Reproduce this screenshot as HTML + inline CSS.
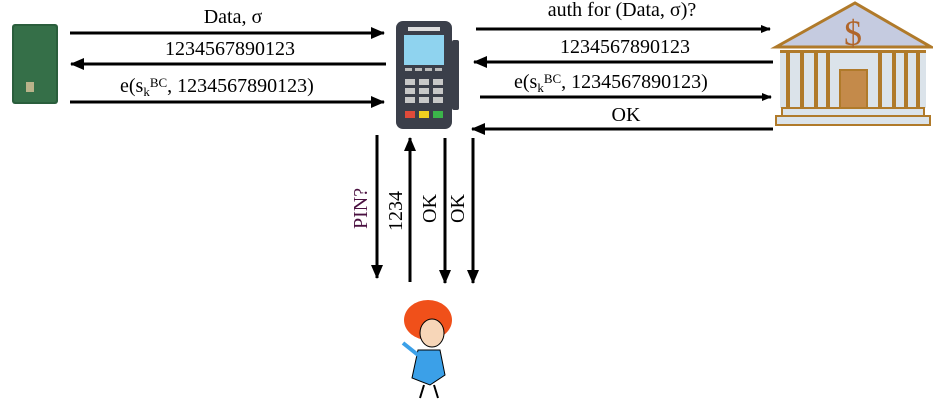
<!DOCTYPE html>
<html><head><meta charset="utf-8"><style>
html,body{margin:0;padding:0;background:#fff;}
svg{display:block;}
text{font-family:"Liberation Serif",serif;font-size:20px;fill:#000;}
</style></head><body>
<svg width="933" height="405" viewBox="0 0 933 405">
<defs>
<marker id="a" markerWidth="10" markerHeight="8" refX="9" refY="4" orient="auto" markerUnits="userSpaceOnUse">
<path d="M0,0 L10,4 L0,8 Z" fill="#000"/></marker>
<marker id="b" markerWidth="14" markerHeight="12" refX="13" refY="6" orient="auto" markerUnits="userSpaceOnUse">
<path d="M0,0 L14,6 L0,12 Z" fill="#000"/></marker>
</defs>
<!-- card -->
<rect x="12" y="24" width="46" height="80" rx="3" fill="#2a5e3c"/>
<rect x="14" y="26" width="42" height="76" rx="2" fill="#356f48"/>
<rect x="26" y="82" width="8" height="10" fill="#b9b38a"/>
<!-- left arrows -->
<g stroke="#000" stroke-width="3">
<line x1="70" y1="33" x2="384" y2="33" marker-end="url(#b)"/>
<line x1="386" y1="64" x2="71" y2="64" marker-end="url(#b)"/>
<line x1="70" y1="102" x2="384" y2="102" marker-end="url(#b)"/>
</g>
<text x="233" y="23" text-anchor="middle">Data, σ</text>
<text x="230" y="55" text-anchor="middle">1234567890123</text>
<text x="120" y="92">e(s<tspan font-size="13" dy="4">k</tspan><tspan font-size="13" dy="-9">BC</tspan><tspan dy="5">, 1234567890123)</tspan></text>
<!-- terminal -->
<rect x="452" y="40" width="7" height="70" rx="2" fill="#3b3f4a"/>
<rect x="396" y="21" width="56" height="108" rx="7" fill="#3b3f4a"/>
<rect x="408" y="27" width="32" height="4" fill="#ddd"/>
<rect x="404" y="35" width="40" height="30" fill="#8fd3ef"/>
<g fill="#bbb"><rect x="405" y="68" width="7" height="3"/><rect x="415" y="68" width="7" height="3"/><rect x="425" y="68" width="7" height="3"/><rect x="435" y="68" width="7" height="3"/></g>
<g fill="#c8c8c8">
<rect x="405" y="79" width="10" height="6"/><rect x="419" y="79" width="10" height="6"/><rect x="433" y="79" width="10" height="6"/>
<rect x="405" y="88" width="10" height="6"/><rect x="419" y="88" width="10" height="6"/><rect x="433" y="88" width="10" height="6"/>
<rect x="405" y="97" width="10" height="6"/><rect x="419" y="97" width="10" height="6"/><rect x="433" y="97" width="10" height="6"/>
</g>
<rect x="405" y="111" width="10" height="7" fill="#e04a3a"/><rect x="419" y="111" width="10" height="7" fill="#f0d020"/><rect x="433" y="111" width="10" height="7" fill="#3bb54a"/>
<!-- right arrows -->
<g stroke="#000" stroke-width="3">
<line x1="476" y1="29" x2="770" y2="29" marker-end="url(#a)"/>
<line x1="773" y1="62" x2="474" y2="62" marker-end="url(#b)"/>
<line x1="480" y1="97" x2="771" y2="97" marker-end="url(#a)"/>
<line x1="773" y1="129" x2="472" y2="129" marker-end="url(#b)"/>
</g>
<text x="622" y="16" text-anchor="middle">auth for (Data, σ)?</text>
<text x="625" y="53" text-anchor="middle">1234567890123</text>
<text x="514" y="88">e(s<tspan font-size="13" dy="4">k</tspan><tspan font-size="13" dy="-9">BC</tspan><tspan dy="5">, 1234567890123)</tspan></text>
<text x="626" y="121" text-anchor="middle">OK</text>
<!-- bank -->
<polygon points="776,47 855,3 931,47" fill="#c5cbe0" stroke="#b07a2a" stroke-width="3"/>
<text x="853" y="45" text-anchor="middle" style="font-size:36px;fill:#b0652a">$</text>
<rect x="780" y="50" width="146" height="58" fill="#dbe3ea"/>
<g fill="#b07a2a">
<rect x="780" y="50" width="146" height="3"/>
<rect x="786" y="52" width="4" height="56"/><rect x="800" y="52" width="4" height="56"/><rect x="814" y="52" width="4" height="56"/><rect x="826" y="52" width="4" height="56"/>
<rect x="878" y="52" width="4" height="56"/><rect x="892" y="52" width="4" height="56"/><rect x="904" y="52" width="4" height="56"/><rect x="916" y="52" width="4" height="56"/>
</g>
<rect x="840" y="70" width="27" height="38" fill="#c48a4a" stroke="#b07a2a" stroke-width="2"/>
<rect x="782" y="108" width="142" height="8" fill="#dbe3ea" stroke="#b07a2a" stroke-width="2"/>
<rect x="776" y="116" width="154" height="9" fill="#dbe3ea" stroke="#b07a2a" stroke-width="2"/>
<!-- vertical arrows -->
<g stroke="#000" stroke-width="3">
<line x1="377" y1="135" x2="377" y2="278" marker-end="url(#b)"/>
<line x1="410" y1="282" x2="410" y2="138" marker-end="url(#b)"/>
<line x1="445" y1="138" x2="445" y2="283" marker-end="url(#b)"/>
<line x1="473" y1="138" x2="473" y2="283" marker-end="url(#b)"/>
</g>
<text transform="translate(367,229) rotate(-90)" style="fill:#4a1040">PIN?</text>
<text transform="translate(402,231) rotate(-90)">1234</text>
<text transform="translate(436,223) rotate(-90)">OK</text>
<text transform="translate(464,223) rotate(-90)">OK</text>
<!-- woman -->
<ellipse cx="428" cy="320" rx="24" ry="20" fill="#f0501a"/>
<ellipse cx="432" cy="333" rx="12" ry="14" fill="#f7d6b8" stroke="#000" stroke-width="1"/>
<path d="M418,350 L440,350 L445,375 L430,385 L412,378 Z" fill="#3ba0e8" stroke="#000" stroke-width="1"/>
<line x1="424" y1="385" x2="420" y2="398" stroke="#000" stroke-width="2"/>
<line x1="434" y1="385" x2="438" y2="398" stroke="#000" stroke-width="2"/>
<line x1="418" y1="355" x2="403" y2="343" stroke="#3ba0e8" stroke-width="4"/>
</svg>
</body></html>
